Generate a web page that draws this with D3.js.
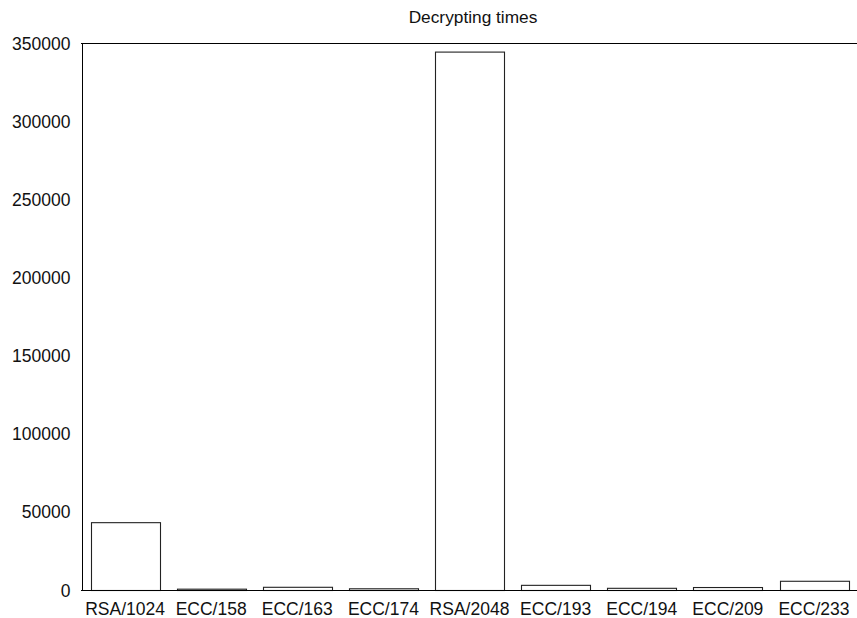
<!DOCTYPE html>
<html>
<head>
<meta charset="utf-8">
<script src="https://cdn.jsdelivr.net/npm/d3@7"></script>
<style>
  html, body { margin: 0; padding: 0; background: #fff; }
  svg { display: block; font-family: "Liberation Sans", Arial, sans-serif; }
</style>
</head>
<body>
<svg id="chart" width="857" height="618"></svg>
<script>
// Decryption time per algorithm / key size
const categories = ["RSA/1024", "ECC/158", "ECC/163", "ECC/174", "RSA/2048", "ECC/193", "ECC/194", "ECC/209", "ECC/233"];
const times = [43400, 850, 2050, 1100, 344500, 3300, 1400, 1900, 5900];
const yTicks = [0, 50000, 100000, 150000, 200000, 250000, 300000, 350000];
const title = "Decrypting times";

const W = 857, H = 618;
const margin = { top: 43.5, right: 0, bottom: 27.5, left: 82 };

const svg = d3.select("#chart");

const x = d3.scaleBand()
  .domain(categories)
  .range([margin.left, W - margin.right])
  .paddingInner(0.2)
  .paddingOuter(0.1);

const y = d3.scaleLinear()
  .domain([0, 350000])
  .range([H - margin.bottom, margin.top]);

// Title
svg.append("text")
  .attr("x", 473)
  .attr("y", 23)
  .attr("text-anchor", "middle")
  .attr("font-size", 17.3)
  .attr("fill", "#111")
  .text(title);

// Bars
svg.append("g")
  .selectAll("rect")
  .data(categories.map((c, i) => ({ c, v: times[i] })))
  .join("rect")
  .attr("x", d => Math.round(x(d.c)) + 0.5)
  .attr("width", Math.round(x.bandwidth()))
  .attr("y", d => y(d.v))
  .attr("height", d => y(0) - y(d.v))
  .attr("fill", "#fff")
  .attr("stroke", "#222")
  .attr("stroke-width", 1.1);

// Left axis (labels only, no ticks)
const yAxis = svg.append("g")
  .attr("transform", `translate(${margin.left - 0.5},0)`)
  .call(d3.axisLeft(y).tickValues(yTicks).tickSize(0).tickPadding(11).tickFormat(d3.format("d")));
yAxis.select(".domain").attr("stroke", "#000").attr("stroke-width", 1).attr("shape-rendering", "crispEdges");
yAxis.selectAll("text").attr("font-size", 17.5).attr("fill", "#111")
  .attr("font-family", "'Liberation Sans', Arial, sans-serif");

// Bottom axis (labels only)
const xAxis = svg.append("g")
  .attr("transform", `translate(0,${y(0)})`)
  .call(d3.axisBottom(x).tickSize(0).tickPadding(12));
xAxis.select(".domain").remove();
xAxis.selectAll("text").attr("font-size", 17.5).attr("fill", "#111")
  .attr("font-family", "'Liberation Sans', Arial, sans-serif");

// Baseline and top frame line
svg.append("line")
  .attr("x1", margin.left - 1).attr("x2", W)
  .attr("y1", y(0)).attr("y2", y(0))
  .attr("stroke", "#000").attr("stroke-width", 1.2);
svg.append("line")
  .attr("x1", margin.left - 1).attr("x2", W)
  .attr("y1", y(350000)).attr("y2", y(350000))
  .attr("stroke", "#000").attr("stroke-width", 1.2);
</script>
</body>
</html>
